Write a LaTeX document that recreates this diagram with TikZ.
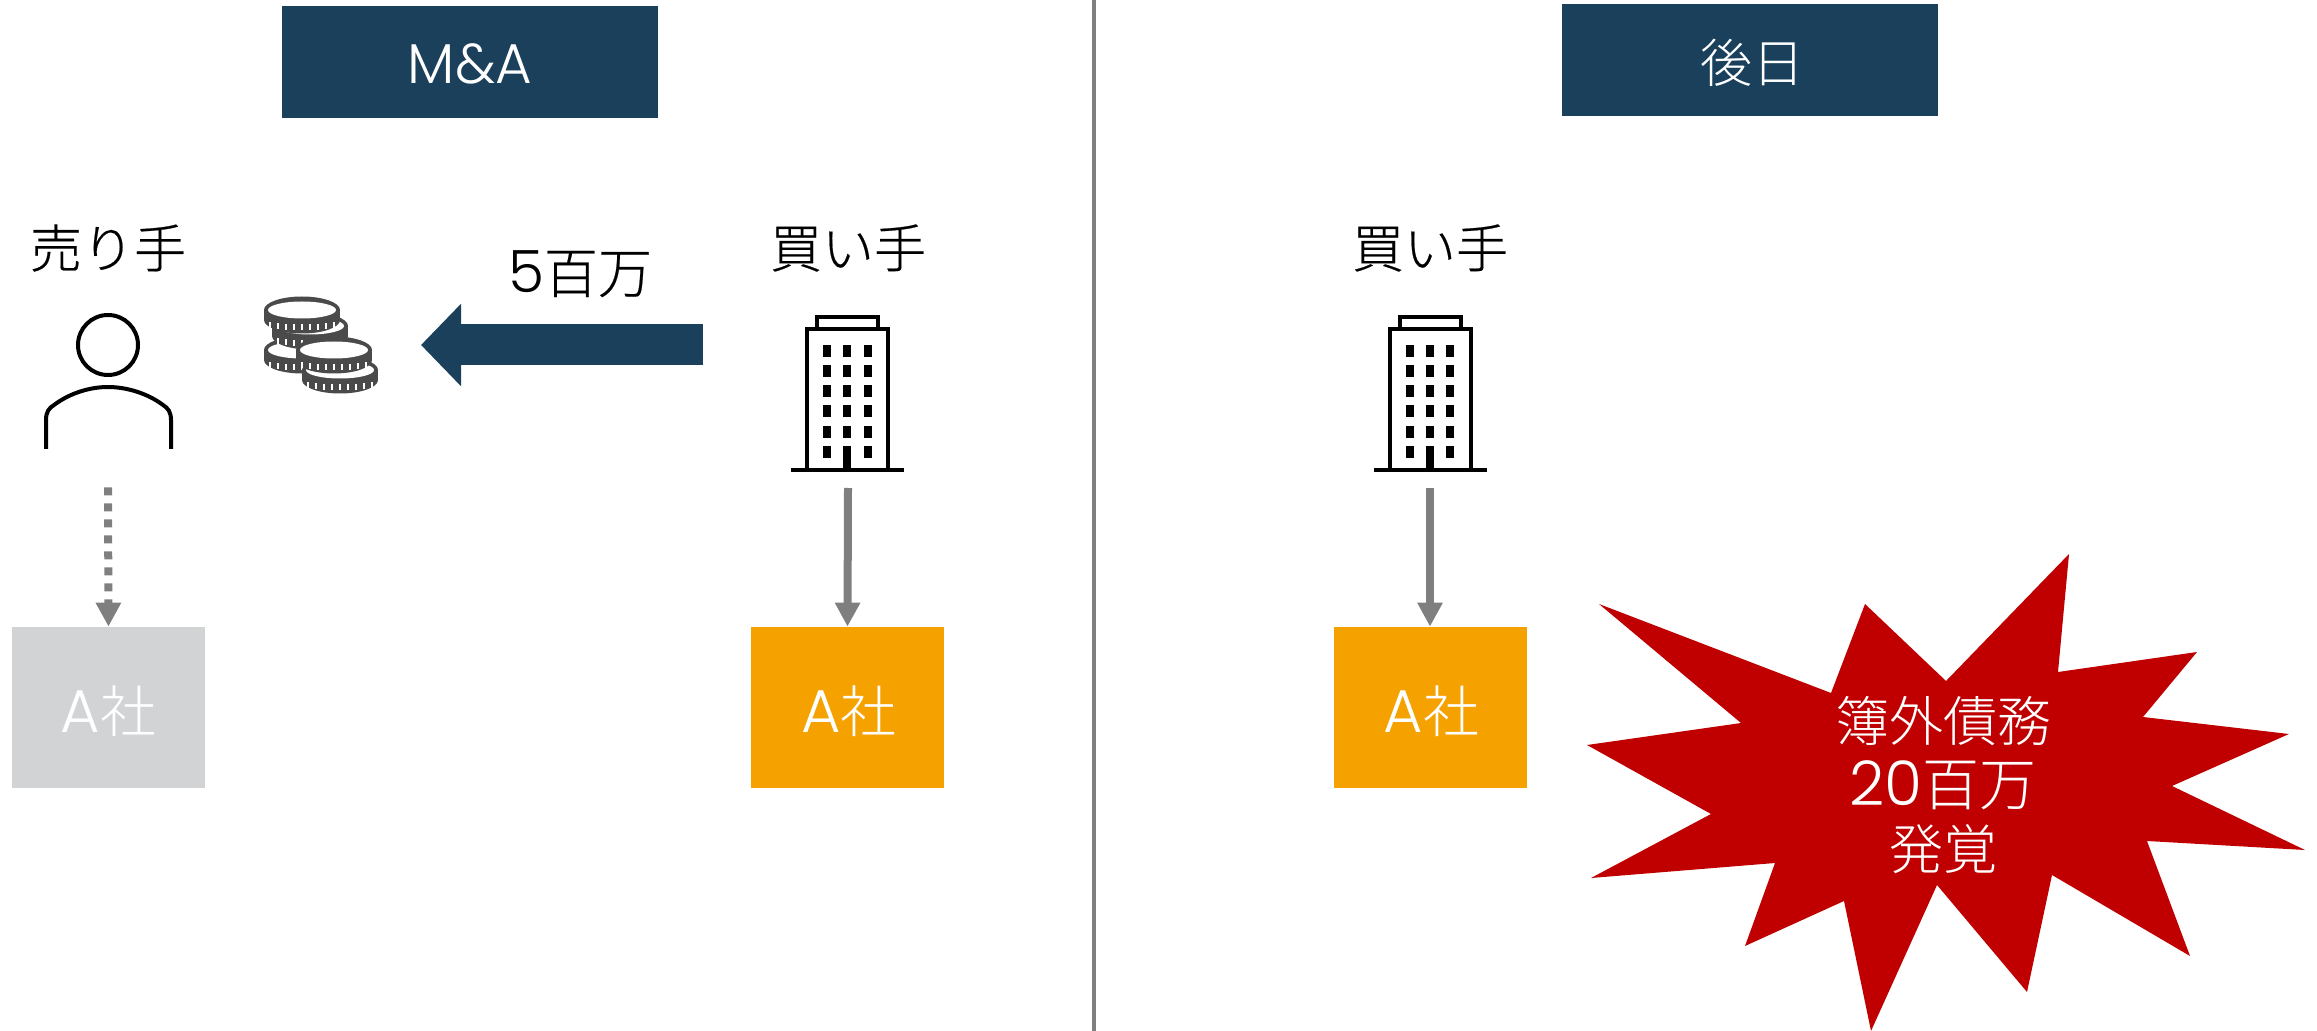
\documentclass[tikz,border=0pt]{standalone}
\usepackage{fontspec}
\usetikzlibrary{arrows.meta}
\setmainfont{Noto Sans CJK JP}[UprightFont=* Light]
\newfontfamily\rolefont{Noto Sans CJK JP}[UprightFont=* Light,FakeBold=0.4]
\newfontfamily\latinlight{Poppins}[UprightFont=* Light,Scale=1.08]
\newcommand{\lat}[1]{{\latinlight #1}}
\definecolor{navy}{HTML}{1A405B}
\definecolor{amber}{HTML}{F5A200}
\definecolor{pale}{HTML}{D2D3D5}
\definecolor{midgrey}{HTML}{7F7F7F}
\definecolor{crimson}{HTML}{C00000}
\definecolor{coin}{HTML}{4A4A4A}
\tikzset{
  x=0.5pt,y=-0.5pt,
  header/.style={fill=navy,text=white,minimum width=188pt,minimum height=56pt,inner sep=0pt},
  headtext/.style={text=white,inner sep=0pt,font=\fontsize{26}{30}\selectfont},
  company/.style={fill=amber,minimum width=96.5pt,minimum height=80.5pt,inner sep=0pt},
  cotext/.style={text=white,inner sep=0pt,font=\fontsize{28}{32}\selectfont},
  role/.style={text=black,inner sep=0pt,font=\rolefont\fontsize{26}{30}\selectfont},
  owns/.style={draw=midgrey,line width=4pt,-{Triangle[length=12pt,width=12pt]}},
  pay/.style={draw=navy,line width=20.5pt,-{Triangle[length=20pt,width=40pt]}},
  icon/.style={draw=black,line width=2pt,fill=none},
  pane/.style={draw=midgrey,line width=2pt},
}
\newcommand{\building}[1]{%
 \begin{scope}[shift={(#1,0)}]
  \draw[icon] (817,329) -- (817,317) -- (878,317) -- (878,329);
  \draw[icon] (807,470) -- (807,329) -- (888,329) -- (888,470);
  \draw[icon] (791,470) -- (904,470);
  \foreach \cx in {827.3,847.3,867.7}{\foreach \ry in {345.3,365.3,385.3,405.3,425.6,445.6}{
    \fill (\cx-4,\ry) rectangle (\cx+4,\ry+12);}}
  \fill (843.3,457) rectangle (851.3,470);
 \end{scope}}
\newcommand{\coinicon}[2]{%
 \begin{scope}[shift={(#1,#2)}]
  \fill[coin] (0,10) ellipse[x radius=38,y radius=13.5];
  \fill[coin] (-38,0) rectangle (38,10);
  \fill[coin] (0,0) ellipse[x radius=38,y radius=13.5];
  \fill[white] (0,0) ellipse[x radius=34,y radius=8.5];
  \foreach \a in {-32,-24,-16,-8,0,8,16,24,32}{\pgfmathsetmacro{\yy}{8+6.5*sqrt(1-(\a/38)*(\a/38))}\fill[white] (\a-1.3,\yy) rectangle ++(2.6,6);}
 \end{scope}}
\begin{document}
\begin{tikzpicture}
\useasboundingbox (0,0) rectangle (2317,1031);
% divider
\coordinate (divtop) at (1094,0);
\coordinate (divbot) at (1094,1031);
\draw[pane] (divtop) -- (divbot);
% headers
\node[header] (h1) at (470,62) {};
\node[header] (h2) at (1749.5,60) {};
\node[headtext] (h1t) at (470,64) {\lat{M\&A}};
\node[headtext] (h2t) at (1752,63) {後日};
% roles
\node[role] (seller) at (108,248) {売り手};
\node[role] (buyerA) at (848,248) {買い手};
\node[role] (buyerB) at (1430,248) {買い手};
% person
\draw[icon] (108,345) circle[radius=30];
\draw[icon] (46,449) -- (46,420) .. controls (46,412) and (49,408) .. (54,405) .. controls (70,393) and (90,387) .. (108,387) .. controls (126,387) and (147,393) .. (163,405) .. controls (168,408) and (171,412) .. (171,420) -- (171,449);
% buildings
\building{0}
\building{582.5}
% coins
\coinicon{302}{350}
\coinicon{310}{326}
\coinicon{302}{310}
\coinicon{340}{370}
\coinicon{334}{350}
% companies
\node[company,fill=pale] (sellerco) at (108.5,707.5) {};
\node[company] (buyerco) at (847.5,707.5) {};
\node[company] (buyerco2) at (1430,707.5) {};
\node[cotext] (sellerlab) at (108.5,711.5) {\lat{A}社};
\node[cotext] (buyerlab) at (849,711.5) {\lat{A}社};
\node[cotext] (buyerlab2) at (1431.5,711.5) {\lat{A}社};
% connectors
\coordinate (sellerfoot) at (108,487.3);
\coordinate (buyerfoot) at (848,488);
\coordinate (buyerfoot2) at (1430,488);
\draw[owns,dash pattern=on 4pt off 4pt] (sellerfoot) -- (sellerco.north);
\draw[owns] (buyerfoot) -- (buyerco.north);
\draw[owns] (buyerfoot2) -- (buyerco2.north);
\coordinate (paystart) at (703,345);
\coordinate (payend) at (421,345);
\draw[pay] (paystart) -- (payend);
\node[role,font=\rolefont\fontsize{27}{30}\selectfont] (amount) at (580,274) {\lat{5}百万};
% burst
\fill[crimson] (1599,604) -- (1831,693) -- (1865,604) -- (1946,681) -- (2069,554) -- (2058,672) -- (2197,652) -- (2143,717) -- (2289,734) -- (2172,786) -- (2305,850) -- (2147,841) -- (2190,956) -- (2052,875) -- (2027,992) -- (1937,885) -- (1871,1031) -- (1844,901) -- (1745,946) -- (1775,863) -- (1591,878) -- (1711,814) -- (1587,745) -- (1741,723) -- cycle;
\node[text=white,inner sep=0pt,align=center,font=\fontsize{27}{32}\selectfont] (burst) at (1943,785) {簿外債務\\{\fontsize{28.5}{32}\selectfont\lat{20}百万}\\発覚};
\end{tikzpicture}
\end{document}
